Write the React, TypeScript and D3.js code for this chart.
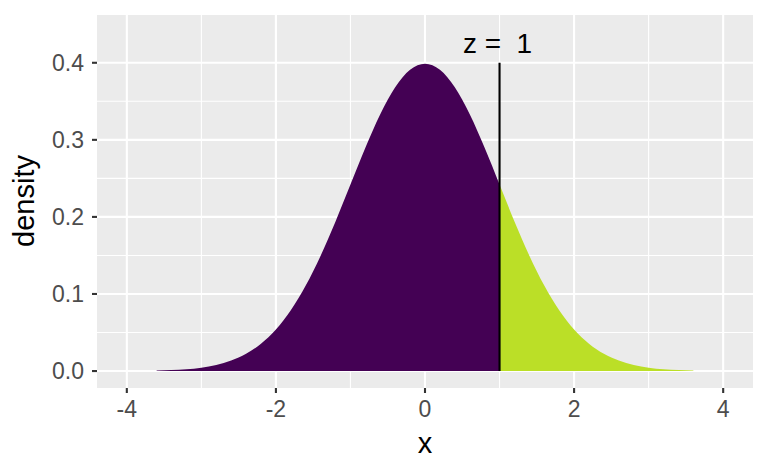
import React from "react";
import * as d3 from "d3";

// Standard normal density (x step 0.2, from -3.6 to 3.6)
const xValues = [
  -3.6, -3.4, -3.2, -3.0, -2.8, -2.6, -2.4, -2.2, -2.0, -1.8, -1.6, -1.4, -1.2,
  -1.0, -0.8, -0.6, -0.4, -0.2, 0.0, 0.2, 0.4, 0.6, 0.8, 1.0, 1.2, 1.4, 1.6,
  1.8, 2.0, 2.2, 2.4, 2.6, 2.8, 3.0, 3.2, 3.4, 3.6,
];
const densityValues = [
  0.0006, 0.0012, 0.0024, 0.0044, 0.0079, 0.0136, 0.0224, 0.0355, 0.054,
  0.079, 0.1109, 0.1497, 0.1942, 0.242, 0.2897, 0.3332, 0.3683, 0.391, 0.3989,
  0.391, 0.3683, 0.3332, 0.2897, 0.242, 0.1942, 0.1497, 0.1109, 0.079, 0.054,
  0.0355, 0.0224, 0.0136, 0.0079, 0.0044, 0.0024, 0.0012, 0.0006,
];
const zValue = 1;
const zLineTop = 0.4;
const xTicks = [-4, -2, 0, 2, 4];
const xMinor = [-3, -1, 1, 3];
const yTicks = [0.0, 0.1, 0.2, 0.3, 0.4];
const yMinor = [0.05, 0.15, 0.25, 0.35];
const xDomain = [-4.4, 4.4];
const yDomain = [-0.022, 0.462];

const W = 768;
const H = 474;
const panel = { left: 97, right: 753, top: 15, bottom: 388 };

export default function App() {
  const x = d3.scaleLinear().domain(xDomain).range([panel.left, panel.right]);
  const y = d3.scaleLinear().domain(yDomain).range([panel.bottom, panel.top]);

  const pts = xValues.map((v, i) => ({ x: v, y: densityValues[i] }));
  const left = pts.filter((p) => p.x <= zValue);
  const right = pts.filter((p) => p.x >= zValue);

  const area = d3
    .area<{ x: number; y: number }>()
    .x((d) => x(d.x))
    .y0(y(0))
    .y1((d) => y(d.y))
    .curve(d3.curveMonotoneX);

  const font = "Liberation Sans, Arial, Helvetica, sans-serif";

  return (
    <svg
      width={W}
      height={H}
      style={{ position: "absolute", left: 0, top: 0 }}
      fontFamily={font}
    >
      <rect x={0} y={0} width={W} height={H} fill="white" />
      <rect
        x={panel.left}
        y={panel.top}
        width={panel.right - panel.left}
        height={panel.bottom - panel.top}
        fill="#EBEBEB"
      />
      {xMinor.map((t) => (
        <line key={"xm" + t} x1={x(t)} x2={x(t)} y1={panel.top} y2={panel.bottom} stroke="white" strokeWidth={1.1} />
      ))}
      {yMinor.map((t) => (
        <line key={"ym" + t} x1={panel.left} x2={panel.right} y1={y(t)} y2={y(t)} stroke="white" strokeWidth={1.1} />
      ))}
      {xTicks.map((t) => (
        <line key={"xg" + t} x1={x(t)} x2={x(t)} y1={panel.top} y2={panel.bottom} stroke="white" strokeWidth={2.1} />
      ))}
      {yTicks.map((t) => (
        <line key={"yg" + t} x1={panel.left} x2={panel.right} y1={y(t)} y2={y(t)} stroke="white" strokeWidth={2.1} />
      ))}

      <path d={area(left) || ""} fill="#440154" />
      <path d={area(right) || ""} fill="#BBDF27" />

      <line
        x1={x(zValue)}
        x2={x(zValue)}
        y1={y(0)}
        y2={y(zLineTop)}
        stroke="black"
        strokeWidth={2.1}
      />
      <text
        x={x(zValue) - 2}
        y={53}
        fontSize={28}
        textAnchor="middle"
        fill="black"
        style={{ whiteSpace: "pre" }}
        xmlSpace="preserve"
      >
        {"z =  " + zValue}
      </text>

      {/* x axis */}
      {xTicks.map((t) => (
        <g key={"xt" + t}>
          <line x1={x(t)} x2={x(t)} y1={panel.bottom} y2={panel.bottom + 5} stroke="#333333" strokeWidth={2.1} />
          <text x={x(t)} y={417} fontSize={23} textAnchor="middle" fill="#4D4D4D">
            {t < 0 ? "-" + Math.abs(t) : String(t)}
          </text>
        </g>
      ))}
      {/* y axis */}
      {yTicks.map((t) => (
        <g key={"yt" + t}>
          <line x1={panel.left - 5} x2={panel.left} y1={y(t)} y2={y(t)} stroke="#333333" strokeWidth={2.1} />
          <text x={panel.left - 13} y={y(t) + 8.3} fontSize={23} textAnchor="end" fill="#4D4D4D">
            {t.toFixed(1)}
          </text>
        </g>
      ))}
      <text x={x(0)} y={453} fontSize={29} textAnchor="middle" fill="black">
        x
      </text>
      <text
        transform={`translate(34, 201) rotate(-90)`}
        fontSize={29}
        textAnchor="middle"
        fill="black"
      >
        density
      </text>
    </svg>
  );
}
